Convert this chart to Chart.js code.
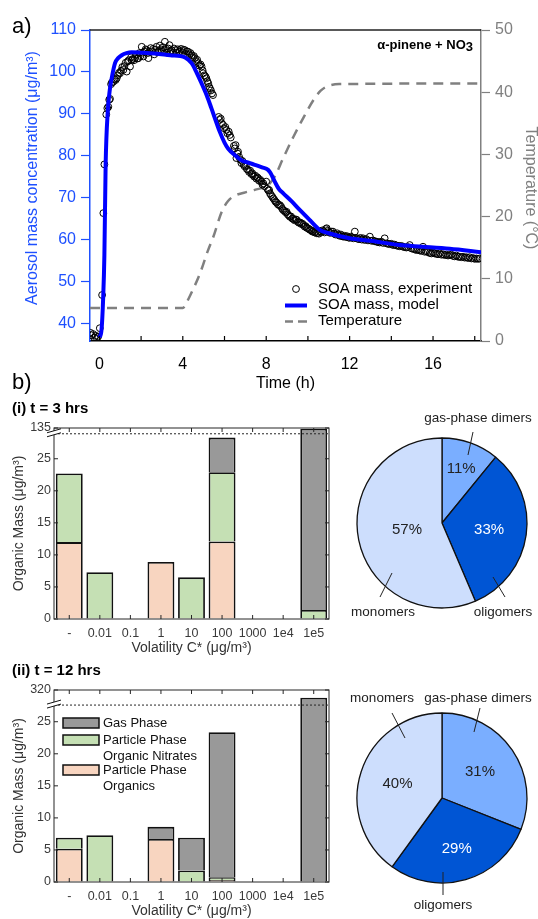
<!DOCTYPE html>
<html>
<head>
<meta charset="utf-8">
<script src="https://cdn.jsdelivr.net/npm/chart.js@4.4.0/dist/chart.umd.min.js"></script>
<style>
  body { margin: 0; background: #fff; }
  #fig { position: relative; width: 538px; height: 919px; overflow: hidden; background: #fff; }
  canvas { position: absolute; }
</style>
</head>
<body>
<div id="fig">
  <canvas id="timeChart" width="538" height="400" style="left:0;top:0"></canvas>
  <canvas id="bars3h" width="340" height="265" style="left:0;top:395px"></canvas>
  <canvas id="bars12h" width="340" height="259" style="left:0;top:660px"></canvas>
  <canvas id="pie3h" width="196" height="240" style="left:344px;top:403px"></canvas>
  <canvas id="pie12h" width="196" height="240" style="left:344px;top:678px"></canvas>
</div>
<script>
// ---- panel a data: [time (h), value] ----
const expPts = [
  [-0.43,37.9],[-0.38,37.3],[-0.3,37.6],[-0.24,36.8],[-0.18,37.2],[-0.12,36.6],[-0.06,37.0],[0.02,39.0],[0.13,46.9],[0.19,66.4],
  [0.24,78.0],[0.33,89.9],[0.38,91.4],[0.43,91.7],[0.47,93.4],[0.51,93.6],[0.56,97.1],[0.6,97.5],[0.67,97.7],[0.72,98.3],
  [0.78,98.1],[0.83,98.5],[0.88,99.2],[0.94,99.8],[0.99,99.7],[1.04,100.3],[1.1,101.2],[1.15,100.5],[1.2,101.4],[1.26,102.2],
  [1.31,100.1],[1.36,102.5],[1.41,102.8],[1.47,101.3],[1.52,103.5],[1.55,102.9],[1.6,103.1],[1.66,102.8],[1.71,103.3],[1.76,104.1],
  [1.82,103.2],[1.87,103.3],[1.92,104.5],[1.97,103.8],[2.03,106.0],[2.08,104.6],[2.11,103.7],[2.16,104.9],[2.22,105.4],[2.27,105.2],
  [2.32,104.5],[2.35,103.3],[2.4,104.8],[2.46,105.7],[2.52,104.9],[2.58,105.5],[2.63,104.2],[2.68,105.3],[2.74,106.0],[2.8,104.7],
  [2.85,105.1],[2.9,106.3],[2.95,105.4],[3.0,104.8],[3.05,105.9],[3.1,105.2],[3.14,107.2],[3.2,105.5],[3.25,104.6],[3.3,105.6],
  [3.36,106.4],[3.41,105.0],[3.46,105.2],[3.52,104.5],[3.58,105.6],[3.65,105.2],[3.7,104.6],[3.76,105.4],[3.82,104.8],[3.86,105.0],
  [3.92,105.5],[3.98,104.7],[4.04,105.3],[4.1,105.2],[4.16,104.3],[4.21,104.9],[4.26,104.8],[4.32,104.1],[4.37,104.5],[4.42,104.0],
  [4.48,103.4],[4.53,103.8],[4.58,103.3],[4.64,102.6],[4.69,102.9],[4.74,102.1],[4.8,101.5],[4.85,101.8],[4.9,101.3],[4.95,100.4],
  [4.98,99.7],[5.04,99.2],[5.09,98.9],[5.13,98.5],[5.18,97.8],[5.22,97.3],[5.26,96.5],[5.3,96.1],[5.35,95.6],[5.4,94.9],
  [5.45,94.5],[5.72,89.3],[5.77,88.6],[5.82,88.9],[5.87,87.8],[5.93,87.4],[5.98,86.6],[6.04,86.9],[6.09,86.2],[6.14,85.4],
  [6.2,85.8],[6.25,85.0],[6.3,84.4],[6.45,82.4],[6.49,81.8],[6.53,82.6],[6.57,79.5],[6.62,80.6],[6.65,81.0],[6.7,79.8],
  [6.76,79.1],[6.81,78.3],[6.86,78.8],[6.92,77.9],[6.97,77.5],[7.02,77.8],[7.07,76.9],[7.13,76.7],[7.18,76.2],[7.23,76.5],
  [7.29,75.7],[7.33,75.9],[7.37,75.5],[7.42,75.1],[7.48,75.3],[7.53,74.6],[7.58,74.9],[7.61,74.7],[7.66,74.1],[7.72,74.3],
  [7.77,73.9],[7.82,73.2],[7.86,73.5],[7.92,72.8],[8.0,73.9],[8.05,72.2],[8.1,71.8],[8.14,71.9],[8.18,71.1],[8.23,70.7],
  [8.29,70.3],[8.34,69.9],[8.4,69.5],[8.45,69.1],[8.5,68.9],[8.56,68.5],[8.61,68.3],[8.66,68.3],[8.72,67.9],[8.77,67.4],
  [8.82,67.1],[8.88,66.9],[8.93,66.6],[8.98,66.7],[9.03,66.1],[9.09,65.8],[9.14,65.5],[9.19,65.6],[9.25,65.1],[9.3,65.0],
  [9.36,64.7],[9.41,64.9],[9.46,64.8],[9.52,64.3],[9.57,64.1],[9.62,64.2],[9.68,63.8],[9.73,63.9],[9.78,63.6],[9.84,63.2],
  [9.89,63.3],[9.94,62.9],[10.0,62.8],[10.05,62.6],[10.1,62.4],[10.16,62.3],[10.21,62.0],[10.26,62.1],[10.32,61.8],[10.37,61.9],
  [10.42,61.6],[10.48,61.7],[10.53,61.5],[10.58,62.1],[10.64,61.9],[10.7,62.3],[10.75,62.1],[10.8,61.8],[10.86,62.6],[10.9,62.8],
  [10.95,62.2],[11.0,61.9],[11.06,61.7],[11.12,62.0],[11.2,62.0],[11.26,61.5],[11.32,61.3],[11.4,61.6],[11.46,61.2],[11.52,61.0],
  [11.58,61.3],[11.64,60.9],[11.69,60.8],[11.76,61.0],[11.82,60.7],[11.88,60.9],[11.94,60.6],[12.0,60.5],[12.06,60.8],[12.12,60.6],
  [12.18,60.4],[12.25,62.0],[12.3,60.5],[12.38,60.3],[12.45,60.2],[12.52,60.5],[12.58,60.1],[12.65,60.4],[12.72,60.0],[12.8,60.2],
  [12.88,59.9],[12.97,60.8],[13.05,59.8],[13.12,59.9],[13.2,59.7],[13.29,59.6],[13.36,59.5],[13.44,59.4],[13.52,59.6],[13.6,59.3],
  [13.68,60.4],[13.76,59.2],[13.84,59.1],[13.92,59.0],[14.0,59.1],[14.08,58.8],[14.16,58.9],[14.24,58.7],[14.32,58.6],[14.4,58.5],
  [14.48,58.6],[14.56,58.4],[14.64,58.3],[14.72,58.2],[14.8,58.3],[14.88,58.8],[14.96,58.0],[15.04,57.9],[15.12,57.8],[15.2,57.6],
  [15.28,57.7],[15.36,57.5],[15.44,57.4],[15.52,58.4],[15.6,57.2],[15.68,57.3],[15.76,57.1],[15.84,56.9],[15.92,56.8],[16.0,57.0],
  [16.08,56.8],[16.16,56.7],[16.24,56.6],[16.32,56.8],[16.4,56.5],[16.48,56.6],[16.56,56.4],[16.64,56.5],[16.72,56.3],[16.79,56.4],
  [16.88,56.5],[16.96,56.2],[17.04,56.1],[17.12,56.3],[17.2,56.0],[17.27,56.0],[17.36,55.9],[17.44,56.0],[17.52,55.8],[17.6,55.9],
  [17.68,55.7],[17.75,55.9],[17.84,55.6],[17.92,55.7],[18.0,55.5],[18.08,55.6],[18.16,55.5],[18.23,55.6]
];
const modelPts = [
  [0.0,36.8],[0.1,38.5],[0.18,46],[0.24,56.4],[0.3,77.9],[0.4,90.5],[0.5,95.8],[0.59,98.5],[0.75,102.1],[0.9,103.3],
  [1.07,104],[1.3,104.5],[1.55,104.7],[2.0,104.6],[2.66,104.4],[3.4,104],[4.1,103.5],[4.42,102.1],[4.65,100],[4.9,97.3],
  [5.15,94.4],[5.37,91.4],[5.77,85.8],[6.0,83.2],[6.17,81.8],[6.5,80.2],[6.81,79.0],[7.22,78.3],[7.45,77.9],[7.8,77.3],
  [8.09,76.7],[8.2,76.0],[8.4,74.0],[8.6,72.2],[8.82,71.1],[9.2,69.3],[9.62,67.1],[10.1,64.7],[10.57,62.4],[11.0,61.6],
  [12.0,60.4],[13.0,59.8],[14.4,58.8],[15.5,58.4],[16.8,57.9],[18.3,57.1]
];
const tempPts = [
  [-0.45,5.3],[4.0,5.3],[4.15,6.0],[4.45,8.0],[4.83,10.9],[5.2,14.5],[5.47,16.8],[5.87,20.8],[6.17,22.5],[6.45,23.3],
  [7.0,23.9],[7.45,24.3],[8.1,25.1],[8.42,26.5],[8.8,29.3],[9.3,32.8],[9.8,36.0],[10.26,38.7],[10.6,40.2],[10.9,40.9],
  [11.5,41.3],[18.3,41.4]
];
const timeTicks = [0, 2, 4, 6, 8, 10, 12, 14, 16, 18];
const massTicks = [40, 50, 60, 70, 80, 90, 100, 110];
const tempTicks = [0, 10, 20, 30, 40, 50];

// ---- panel b data ----
const volCats = ['-', '0.01', '0.1', '1', '10', '100', '1000', '1e4', '1e5'];
// t = 3 hrs (values above the axis break are read on the broken axis)
const org3 = [12.0, 0, 0, 8.9, 0, 12.1, 0, 0, 0];
const nit3 = [10.7, 7.3, 0, 0, 6.5, 10.8, 0, 0, 1.4];
const gas3 = [0, 0, 0, 0, 0, 5.4, 0, 0, 28.3];
// t = 12 hrs
const org12 = [5.2, 0, 0, 6.7, 0, 0.3, 0, 0, 0];
const nit12 = [1.7, 7.3, 0, 0, 1.8, 0.45, 0, 0, 0];
const gas12 = [0, 0, 0, 1.9, 5.1, 22.6, 0, 0, 28.75];
const massTicksB = [0, 5, 10, 15, 20, 25];

const pieLabels = ['gas-phase dimers', 'oligomers', 'monomers'];
const share3 = [11, 33, 57];
const share12 = [31, 29, 40];

const FONT = "'Liberation Sans', Arial, sans-serif";
const AX_BLUE = '#1e50ff';
const GREY = '#808080';
const PEACH = '#f8d5c0';
const GREEN = '#c5e0b4';
const GAS_GREY = '#999999';
const PIE_COLORS = ['#7aaeff', '#0055d4', '#cddefd'];

Chart.defaults.font.family = FONT;
Chart.defaults.animation = false;

function seg(ctx, x1, y1, x2, y2) {
  ctx.beginPath(); ctx.moveTo(x1, y1); ctx.lineTo(x2, y2); ctx.stroke();
}

const panelA = {
  id: 'panelA',
  afterDraw(chart) {
    const { ctx, chartArea: a } = chart;
    const x = chart.scales.x;
    ctx.save();
    ctx.strokeStyle = '#222'; ctx.lineWidth = 1.5;
    seg(ctx, a.left, a.top, a.right, a.top);
    ctx.strokeStyle = '#000'; ctx.lineWidth = 1.2;
    x.ticks.forEach(t => {
      const px = x.getPixelForValue(t.value);
      seg(ctx, px, a.bottom, px, a.bottom - 5);
    });

    ctx.fillStyle = '#000';
    ctx.textAlign = 'left'; ctx.textBaseline = 'alphabetic';
    ctx.font = `22px ${FONT}`;
    ctx.fillText('a)', 12, 33);
    ctx.fillText('b)', 12, 389);

    // label in the upper right
    ctx.font = `bold 13px ${FONT}`;
    const w3 = ctx.measureText('3').width;
    ctx.textAlign = 'right';
    ctx.fillText('α-pinene + NO', 473 - w3, 49);
    ctx.fillText('3', 473, 51);

    // axis titles
    ctx.textAlign = 'center'; ctx.textBaseline = 'middle';
    ctx.font = `16px ${FONT}`;
    ctx.fillText('Time (h)', (a.left + a.right) / 2, 384);
    ctx.save();
    ctx.fillStyle = AX_BLUE;
    ctx.translate(33, 178); ctx.rotate(-Math.PI / 2);
    ctx.fillText('Aerosol mass concentration (μg/m³)', 0, 0);
    ctx.restore();
    ctx.save();
    ctx.fillStyle = GREY;
    ctx.translate(530, 188); ctx.rotate(Math.PI / 2);
    ctx.fillText('Temperature (°C)', 0, 0);
    ctx.restore();

    // legend
    ctx.font = `15px ${FONT}`;
    ctx.textAlign = 'left'; ctx.fillStyle = '#000';
    ctx.lineWidth = 1; ctx.strokeStyle = '#000';
    ctx.beginPath(); ctx.arc(296, 289, 3.4, 0, Math.PI * 2); ctx.stroke();
    ctx.fillText('SOA mass, experiment', 318, 289);
    ctx.strokeStyle = '#0000ff'; ctx.lineWidth = 4;
    seg(ctx, 285, 305.5, 307, 305.5);
    ctx.fillText('SOA mass, model', 318, 305);
    ctx.strokeStyle = GREY; ctx.lineWidth = 2.5;
    seg(ctx, 285, 321.5, 293, 321.5);
    seg(ctx, 298, 321.5, 307, 321.5);
    ctx.fillText('Temperature', 318, 321);
    ctx.restore();
  }
};

new Chart(document.getElementById('timeChart'), {
  type: 'line',
  data: {
    datasets: [
      {
        label: 'SOA mass, model',
        data: modelPts.map(([x, y]) => ({ x, y })),
        borderColor: '#0000ff', borderWidth: 4, pointRadius: 0,
        cubicInterpolationMode: 'monotone', yAxisID: 'y'
      },
      {
        label: 'SOA mass, experiment',
        data: expPts.map(([x, y]) => ({ x, y })),
        showLine: false, pointRadius: 3.4, pointStyle: 'circle',
        pointBorderColor: '#000', pointBackgroundColor: 'rgba(0,0,0,0)', pointBorderWidth: 1,
        yAxisID: 'y'
      },
      {
        label: 'Temperature',
        data: tempPts.map(([x, y]) => ({ x, y })),
        borderColor: GREY, borderWidth: 2.5, borderDash: [10, 7], pointRadius: 0,
        cubicInterpolationMode: 'monotone', yAxisID: 'y2'
      }
    ]
  },
  options: {
    responsive: false,
    layout: { padding: { top: 30, left: 0, right: 0, bottom: 0 } },
    plugins: { legend: { display: false }, tooltip: { enabled: false } },
    scales: {
      x: {
        type: 'linear', min: -0.45, max: 18.3,
        afterBuildTicks: s => { s.ticks = timeTicks.map(v => ({ value: v })); },
        afterFit: s => { s.height = 59; },
        ticks: {
          callback: v => (v % 4 === 0 ? String(v) : ''),
          font: { size: 16 }, color: '#000', padding: 14, maxRotation: 0, autoSkip: false
        },
        grid: { drawOnChartArea: false, drawTicks: false },
        border: { color: '#000', width: 1.5 }
      },
      y: {
        position: 'left', min: 35.95, max: 110,
        afterBuildTicks: s => { s.ticks = massTicks.map(v => ({ value: v })); },
        afterFit: s => { s.width = 90; },
        ticks: { color: AX_BLUE, font: { size: 16 }, padding: 5 },
        grid: { drawOnChartArea: false, color: AX_BLUE, tickLength: 9, tickWidth: 1.2 },
        border: { color: AX_BLUE, width: 1.5 }
      },
      y2: {
        position: 'right', min: 0, max: 50,
        afterBuildTicks: s => { s.ticks = tempTicks.map(v => ({ value: v })); },
        afterFit: s => { s.width = 57; },
        ticks: { color: GREY, font: { size: 16 }, padding: 5 },
        grid: { drawOnChartArea: false, color: GREY, tickLength: 9, tickWidth: 1.2 },
        border: { color: GREY, width: 1.5 }
      }
    }
  },
  plugins: [panelA]
});

// ---- stacked bar charts ----
const barFrame = {
  id: 'barFrame',
  afterDraw(chart, args, o) {
    const { ctx, chartArea: a } = chart;
    const { x, y } = chart.scales;
    ctx.save();
    ctx.strokeStyle = '#262626'; ctx.lineWidth = 1;
    ctx.strokeRect(a.left, a.top, a.right - a.left, a.bottom - a.top);
    x.ticks.forEach((t, i) => {
      const px = x.getPixelForTick(i);
      seg(ctx, px, a.top, px, a.top + 4);
      seg(ctx, px, a.bottom, px, a.bottom - 4);
    });
    y.ticks.forEach((t, i) => {
      const py = y.getPixelForTick(i);
      seg(ctx, a.left, py, a.left + 4, py);
      seg(ctx, a.right, py, a.right - 4, py);
    });
    // axis break
    const yb = y.getPixelForValue(o.breakAt);
    ctx.setLineDash([2, 2]);
    seg(ctx, a.left, yb, a.right, yb);
    ctx.setLineDash([]);
    const L = a.left;
    ctx.fillStyle = '#fff';
    ctx.beginPath();
    ctx.moveTo(L - 7, yb - 1); ctx.lineTo(L + 7, yb - 5); ctx.lineTo(L + 7, yb - 1); ctx.lineTo(L - 7, yb + 3);
    ctx.closePath(); ctx.fill();
    ctx.strokeStyle = '#111';
    seg(ctx, L - 7, yb - 1, L + 7, yb - 5);
    seg(ctx, L - 7, yb + 3, L + 7, yb - 1);

    // titles
    ctx.fillStyle = '#000';
    ctx.font = `bold 15px ${FONT}`;
    ctx.textAlign = 'left'; ctx.textBaseline = 'middle';
    ctx.fillText(o.title, 12, o.titleY);
    ctx.fillStyle = '#333';
    ctx.font = `14px ${FONT}`;
    ctx.textAlign = 'center';
    ctx.fillText('Volatility C* (μg/m³)', (a.left + a.right) / 2, a.bottom + 29);
    ctx.save();
    ctx.translate(19, (a.top + a.bottom) / 2); ctx.rotate(-Math.PI / 2);
    ctx.fillText('Organic Mass (μg/m³)', 0, 0);
    ctx.restore();

    if (o.legend) {
      const items = chart.data.datasets.slice().reverse();
      const rows = [33, 50, 80];
      ctx.font = `13px ${FONT}`;
      ctx.textAlign = 'left';
      items.forEach((d, i) => {
        const cy = a.top + rows[i];
        ctx.fillStyle = d.backgroundColor;
        ctx.fillRect(63, cy - 5, 36, 10);
        ctx.strokeStyle = '#111'; ctx.lineWidth = 1.5;
        ctx.strokeRect(63, cy - 5, 36, 10);
        ctx.fillStyle = '#111';
        d.label.split('|').forEach((line, j) => ctx.fillText(line, 103, cy + j * 16));
      });
    }
    ctx.restore();
  }
};

function drawBars(id, org, nit, gas, yMax, topLabel, breakAt, padTop, axisH, title, titleY, legend) {
  return new Chart(document.getElementById(id), {
    type: 'bar',
    data: {
      labels: volCats,
      datasets: [
        { label: 'Particle Phase|Organics', data: org, backgroundColor: PEACH },
        { label: 'Particle Phase|Organic Nitrates', data: nit, backgroundColor: GREEN },
        { label: 'Gas Phase', data: gas, backgroundColor: GAS_GREY }
      ].map(d => Object.assign(d, {
        borderColor: '#111', borderWidth: 1.8, borderSkipped: 'start',
        barPercentage: 0.88, categoryPercentage: 1
      }))
    },
    options: {
      responsive: false,
      layout: { padding: { top: padTop, right: 11, left: 0, bottom: 0 } },
      plugins: {
        legend: { display: false }, tooltip: { enabled: false },
        barFrame: { breakAt, title, titleY, legend }
      },
      scales: {
        x: {
          stacked: true,
          afterFit: s => { s.height = axisH; },
          ticks: { font: { size: 12.5 }, color: '#3a3a3a', padding: 7, autoSkip: false, maxRotation: 0 },
          grid: { drawOnChartArea: false, drawTicks: false },
          border: { display: false }
        },
        y: {
          stacked: true, min: 0, max: yMax,
          afterBuildTicks: s => { s.ticks = massTicksB.concat([yMax]).map(v => ({ value: v })); },
          afterFit: s => { s.width = 54; },
          ticks: {
            callback: v => (v === yMax ? topLabel : String(v)),
            font: { size: 12.5 }, color: '#3a3a3a', padding: 3, autoSkip: false
          },
          grid: { drawOnChartArea: false, drawTicks: false },
          border: { display: false }
        }
      }
    },
    plugins: [barFrame]
  });
}

drawBars('bars3h', org3, nit3, gas3, 29.8, '135', 28.9, 33, 41, '(i) t = 3 hrs', 14, false);
drawBars('bars12h', org12, nit12, gas12, 29.95, '320', 27.6, 30, 37, '(ii) t = 12 hrs', 11, true);

// ---- pies ----
const pieText = {
  id: 'pieText',
  afterDraw(chart, args, o) {
    const { ctx } = chart;
    const meta = chart.getDatasetMeta(0);
    const vals = chart.data.datasets[0].data;
    ctx.save();
    meta.data.forEach((arc, i) => {
      const p = arc.getProps(['x', 'y', 'startAngle', 'endAngle', 'outerRadius'], true);
      const mid = (p.startAngle + p.endAngle) / 2;
      const r = p.outerRadius * o.fracs[i];
      ctx.font = `15px ${FONT}`;
      ctx.textAlign = 'center'; ctx.textBaseline = 'middle';
      ctx.fillStyle = i === 1 ? '#fff' : '#222';
      ctx.fillText(vals[i] + '%', p.x + Math.cos(mid) * r, p.y + Math.sin(mid) * r);
      const [x1, y1, x2, y2] = o.leaders[i];
      ctx.strokeStyle = '#222'; ctx.lineWidth = 1;
      seg(ctx, p.x + x1, p.y + y1, p.x + x2, p.y + y2);
      const [tx, ty] = o.names[i];
      ctx.font = `13.5px ${FONT}`;
      ctx.fillStyle = '#222';
      ctx.fillText(chart.data.labels[i], p.x + tx, p.y + ty);
    });
    ctx.restore();
  }
};

function drawPie(id, shares, textOpts) {
  return new Chart(document.getElementById(id), {
    type: 'pie',
    data: {
      labels: pieLabels,
      datasets: [{
        data: shares, backgroundColor: PIE_COLORS,
        borderColor: '#111', borderWidth: 1.3, radius: 85
      }]
    },
    options: {
      responsive: false,
      plugins: { legend: { display: false }, tooltip: { enabled: false }, pieText: textOpts }
    },
    plugins: [pieText]
  });
}

drawPie('pie3h', share3, {
  fracs: [0.67, 0.56, 0.42],
  leaders: [[31, -91, 26, -68], [63, 74, 51, 54], [-62, 74, -50, 50]],
  names: [[36, -105], [61, 89], [-59, 89]]
});
drawPie('pie12h', share12, {
  fracs: [0.54, 0.62, 0.55],
  leaders: [[38, -90, 32, -66], [1, 74, 1, 97], [-50, -85, -37, -60]],
  names: [[36, -100], [1, 107], [-60, -100]]
});
</script>
</body>
</html>
